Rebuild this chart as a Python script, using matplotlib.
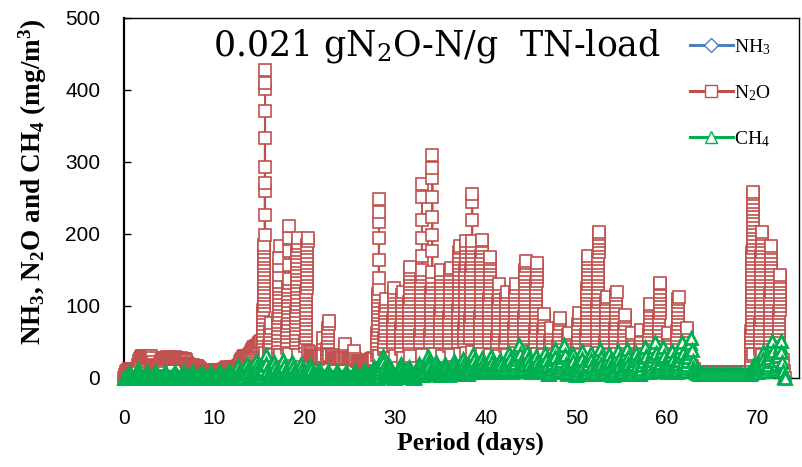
"""
Emission of NH3, N2O and CH4 during composting (0.021 gN2O-N/g TN-load).
"""

import matplotlib
matplotlib.use("Agg")
import matplotlib.pyplot as plt
from matplotlib.lines import Line2D
import numpy as np

# N2O: measurement runs, each given by start day, end day and the readings (mg/m3)
n2o_start = [0.05, 1.6, 3.2, 4.0, 7.0, 8.4, 11.1, 12.8, 14.0,
             15.35, 16.05, 17.0, 18.0, 19.0, 20.05, 20.55, 21.9, 22.45, 22.95,
             24.35, 24.8, 25.35, 25.8, 27.95, 28.75, 29.7, 30.6, 31.45, 32.75,
             33.85, 34.9, 35.9, 36.9, 37.6, 38.25, 39.35, 40.3, 41.25, 42.15,
             43.1, 44.2, 45.45, 46.3, 47.1, 48.0, 49.0, 50.1, 51.1, 52.25,
             53.2, 54.25, 55.2, 56.1, 57.05, 58.0, 59.1, 60.05, 61.1, 62.1,
             62.6, 69.3, 70.3, 71.35, 72.35, 72.85]
n2o_end = [1.5, 3.1, 3.9, 6.9, 8.3, 11.0, 12.7, 13.95, 15.1,
           15.6, 16.25, 17.2, 18.25, 19.2, 20.3, 21.7, 22.05, 22.65, 24.15,
           24.5, 25.2, 25.5, 27.6, 28.2, 28.95, 29.9, 30.8, 31.65, 32.95,
           34.1, 35.1, 36.1, 37.1, 37.8, 38.5, 39.55, 40.5, 41.45, 42.3,
           43.3, 44.4, 45.65, 46.45, 47.2, 48.2, 49.15, 50.3, 51.3, 52.5,
           53.35, 54.45, 55.4, 56.2, 57.2, 58.2, 59.3, 60.2, 61.3, 62.3,
           68.9, 69.55, 70.5, 71.55, 72.55, 73.05]
n2o_values = [
    [0, 4, 8, 10, 11, 12, 13, 12, 12, 11, 12, 13, 12, 12, 13, 12],
    [18, 24, 27, 29, 30, 29, 30, 31, 30, 29, 30, 29, 28, 29, 30, 28],
    [22, 18, 16, 15, 16, 15, 16, 17],
    [20, 24, 26, 27, 28, 27, 28, 29, 28, 27, 28, 29, 28, 27, 28, 28, 29, 28,
     27, 28, 27, 26, 27, 28, 27, 26, 27, 26, 25, 24],
    [21, 19, 18, 17, 18, 17, 18, 17, 16, 17, 16, 15, 14],
    [12, 11, 10, 9, 10, 10, 9, 10, 11, 10, 9, 10, 10, 11, 10, 9, 10, 10, 9,
     10, 11, 10, 10, 9, 10, 11],
    [12, 13, 14, 15, 14, 13, 14, 15, 14, 13, 14, 15, 14, 15, 16, 18],
    [22, 25, 27, 29, 30, 29, 31, 30, 29, 31, 32, 33],
    [36, 39, 41, 43, 42, 44, 45, 46, 48, 50, 52],
    # day 15 peak
    [45, 50, 55, 60, 65, 70, 75, 80, 85, 90, 95, 100, 105, 110, 115, 120, 125,
     130, 135, 140, 145, 150, 155, 160, 165, 170, 175, 180, 185,
     199, 226, 260, 271, 293, 333, 371, 401, 410, 428, 35],
    [40, 45, 50, 55, 60, 65, 70, 77, 32],
    [38, 43, 48, 53, 58, 63, 68, 73, 78, 83, 88, 93, 98, 103, 108, 113, 118,
     123, 128, 133, 143, 155, 167, 183, 32],
    [42, 47, 52, 57, 62, 67, 72, 77, 82, 87, 92, 97, 102, 107, 112, 117, 122,
     127, 132, 137, 157, 176, 194, 211, 34],
    [48, 53, 58, 63, 68, 73, 78, 83, 88, 93, 98, 103, 108, 113, 118, 123, 128,
     133, 138, 143, 148, 153, 158, 163, 168, 173, 178, 183, 188, 195, 32],
    [45, 50, 55, 60, 65, 70, 75, 80, 85, 90, 95, 100, 105, 110, 115, 120, 125,
     130, 135, 140, 145, 150, 155, 160, 165, 170, 175, 180, 185, 190, 195, 38],
    [36, 33, 31, 30, 29, 28, 28, 27, 28, 29, 28, 27, 28, 29, 30],
    [30, 35, 40, 45, 50, 55, 30],
    [30, 35, 40, 45, 50, 55, 60, 65, 70, 75, 79, 32],
    [32, 30, 28, 27, 26, 27, 28, 27, 26, 27, 28, 27, 26, 28],
    [28, 32, 36, 40, 44, 47, 28],
    [28, 27, 26, 27, 26],
    [25, 28, 31, 34, 37, 27],
    [24, 23, 22, 21, 22, 23, 24, 23, 22, 21, 22, 23, 24, 25, 24, 23, 24, 25,
     26, 27, 28, 27],
    # day 28 peak
    [32, 37, 42, 47, 52, 57, 62, 67, 72, 77, 82, 87, 92, 97, 102, 107, 112,
     117, 123, 139, 164, 195, 217, 230, 249, 30],
    [40, 45, 50, 55, 60, 65, 70, 75, 80, 85, 90, 95, 100, 105, 110, 28],
    [45, 50, 55, 60, 65, 70, 75, 80, 85, 90, 95, 100, 105, 110, 115, 120,
     125, 30],
    [40, 45, 50, 55, 60, 65, 70, 75, 80, 85, 90, 95, 100, 105, 110, 115,
     120, 28],
    [45, 50, 55, 60, 65, 70, 75, 80, 85, 90, 95, 100, 105, 110, 115, 120,
     125, 130, 135, 140, 145, 150, 154, 30],
    [50, 55, 60, 65, 70, 75, 80, 85, 90, 95, 100, 105, 110, 115, 120, 125,
     130, 135, 140, 145, 150, 169, 195, 220, 251, 269, 32],
    # day 34 peak
    [50, 55, 60, 65, 70, 75, 80, 85, 90, 95, 100, 105, 110, 115, 120, 125,
     130, 135, 140, 147, 176, 199, 224, 251, 278, 292, 310, 34],
    [50, 55, 60, 65, 70, 75, 80, 85, 90, 95, 100, 105, 110, 115, 120, 125,
     130, 135, 140, 145, 150, 30],
    [45, 50, 55, 60, 65, 70, 75, 80, 85, 90, 95, 100, 105, 110, 115, 120,
     125, 130, 135, 140, 145, 150, 153, 32],
    [50, 55, 60, 65, 70, 75, 80, 85, 90, 95, 100, 105, 110, 115, 120, 125,
     130, 135, 140, 145, 150, 155, 160, 165, 170, 175, 180, 184, 34],
    [50, 55, 60, 65, 70, 75, 80, 85, 90, 95, 100, 105, 110, 115, 120, 125,
     130, 135, 140, 145, 150, 155, 160, 165, 170, 175, 180, 185, 190, 35],
    [55, 60, 65, 70, 75, 80, 85, 90, 95, 100, 105, 110, 115, 120, 125, 130,
     135, 140, 145, 150, 155, 160, 165, 170, 175, 180, 185, 190, 220, 244,
     255, 36],
    [50, 55, 60, 65, 70, 75, 80, 85, 90, 95, 100, 105, 110, 115, 120, 125,
     130, 135, 140, 145, 150, 155, 160, 165, 170, 175, 180, 185, 190, 192, 34],
    [50, 55, 60, 65, 70, 75, 80, 85, 90, 95, 100, 105, 110, 115, 120, 125,
     130, 135, 140, 145, 150, 155, 160, 165, 168, 32],
    [45, 50, 55, 60, 65, 70, 75, 80, 85, 90, 95, 100, 105, 110, 115, 120,
     125, 130, 30],
    [45, 50, 55, 60, 65, 70, 75, 80, 85, 90, 95, 100, 105, 110, 115, 120, 32],
    [45, 50, 55, 60, 65, 70, 75, 80, 85, 90, 95, 100, 105, 110, 115, 120,
     125, 130, 35],
    [50, 55, 60, 65, 70, 75, 80, 85, 90, 95, 100, 105, 110, 115, 120, 125,
     130, 135, 140, 145, 150, 155, 160, 162, 36],
    [50, 55, 60, 65, 70, 75, 80, 85, 90, 95, 100, 105, 110, 115, 120, 125,
     130, 135, 140, 145, 150, 155, 160, 34],
    [45, 50, 55, 60, 65, 70, 75, 80, 85, 89, 32],
    [40, 45, 50, 55, 60, 65, 70, 30],
    [40, 45, 50, 55, 60, 65, 70, 75, 80, 83, 32],
    [35, 40, 45, 50, 55, 60, 62, 30],
    [40, 45, 50, 55, 60, 65, 70, 75, 80, 85, 90, 32],
    [50, 55, 60, 65, 70, 75, 80, 85, 90, 95, 100, 105, 110, 115, 120, 125,
     130, 135, 140, 145, 150, 155, 160, 165, 170, 36],
    [50, 55, 60, 65, 70, 75, 80, 85, 90, 95, 100, 105, 110, 115, 120, 125,
     130, 135, 140, 145, 150, 155, 160, 165, 170, 175, 180, 185, 190, 195,
     200, 203, 35],
    [45, 50, 55, 60, 65, 70, 75, 80, 85, 90, 95, 100, 105, 110, 113, 32],
    [45, 50, 55, 60, 65, 70, 75, 80, 85, 90, 95, 100, 105, 110, 115, 120, 34],
    [40, 45, 50, 55, 60, 65, 70, 75, 80, 85, 87, 30],
    [35, 40, 45, 50, 55, 60, 62, 30],
    [35, 40, 45, 50, 55, 60, 65, 66, 32],
    [40, 45, 50, 55, 60, 65, 70, 75, 80, 85, 90, 95, 100, 103, 34],
    [45, 50, 55, 60, 65, 70, 75, 80, 85, 90, 95, 100, 105, 110, 115, 120,
     125, 130, 132, 35],
    [35, 40, 45, 50, 55, 60, 63, 30],
    [40, 45, 50, 55, 60, 65, 70, 75, 80, 85, 90, 95, 100, 105, 110, 112, 34],
    [35, 40, 45, 50, 55, 60, 65, 70, 28],
    # low period after day 63
    [22, 16, 12, 9, 8, 8, 7, 8, 8, 8, 7, 8, 8, 8, 7, 8, 8, 8, 7, 8, 8, 8, 7,
     8, 8, 8, 7, 8, 8, 9],
    [15, 20, 25, 30, 35, 40, 45, 50, 55, 60, 65, 70, 75, 80, 85, 90, 95, 100,
     105, 110, 115, 120, 125, 130, 135, 140, 145, 150, 155, 160, 165, 170,
     175, 180, 185, 190, 195, 200, 205, 210, 215, 220, 225, 230, 235, 240,
     245, 250, 255, 258, 34],
    [40, 45, 50, 55, 60, 65, 70, 75, 80, 85, 90, 95, 100, 105, 110, 115, 120,
     125, 130, 135, 140, 145, 150, 155, 160, 165, 170, 175, 180, 185, 190,
     195, 200, 203, 32],
    [40, 45, 50, 55, 60, 65, 70, 75, 80, 85, 90, 95, 100, 105, 110, 115, 120,
     125, 130, 135, 140, 145, 150, 155, 160, 165, 170, 175, 180, 183, 32],
    [35, 40, 45, 50, 55, 60, 65, 70, 75, 80, 85, 90, 95, 100, 105, 110, 115,
     120, 125, 130, 135, 140, 143, 30],
    [25, 10, 0],
]

# CH4: readings for each day (day 0 .. 73), spread evenly over the day
ch4_daily = [
    [0, 0, 0, 0, 1, 3, 5, 7, 4, 2, 0, 0],
    [0, 0, 2, 4, 6, 8, 10, 12, 8, 4, 1, 0],
    [0, 0, 0, 0, 2, 4, 6, 8, 5, 2, 0, 0],
    [0, 0, 0, 0, 2, 4, 6, 8, 5, 2, 0, 0],
    [0, 0, 0, 0, 2, 4, 7, 9, 6, 3, 0, 0],
    [0, 0, 0, 0, 2, 4, 6, 8, 5, 2, 0, 0],
    [0, 0, 0, 0, 2, 4, 7, 9, 6, 3, 0, 0],
    [0, 0, 0, 0, 2, 4, 6, 8, 5, 2, 0, 0],
    [0, 0, 0, 0, 1, 3, 5, 7, 4, 2, 0, 0],
    [0, 0, 0, 0, 1, 3, 5, 7, 4, 2, 0, 0],
    [0, 0, 0, 0, 2, 4, 6, 8, 5, 2, 0, 0],
    [0, 0, 0, 1, 3, 5, 8, 10, 6, 3, 0, 0],
    [0, 0, 1, 3, 6, 9, 12, 16, 10, 5, 2, 0],
    [0, 0, 2, 5, 8, 12, 16, 20, 13, 7, 2, 0],
    [0, 1, 3, 6, 10, 14, 19, 24, 16, 9, 3, 0],
    [0, 2, 5, 9, 13, 18, 23, 28, 32, 20, 10, 3],
    [0, 1, 3, 6, 10, 14, 18, 22, 15, 8, 3, 0],
    [0, 1, 3, 6, 10, 14, 19, 25, 16, 9, 3, 0],
    [0, 1, 3, 6, 10, 14, 18, 22, 15, 8, 3, 0],
    [0, 1, 3, 5, 8, 12, 16, 20, 13, 7, 2, 0],
    [0, 1, 3, 5, 8, 11, 14, 18, 12, 6, 2, 0],
    [0, 0, 1, 3, 5, 7, 9, 12, 8, 4, 1, 0],
    [0, 0, 0, 1, 3, 5, 7, 10, 6, 3, 0, 0],
    [0, 0, 0, 1, 3, 5, 7, 10, 6, 3, 0, 0],
    [0, 0, 0, 1, 3, 5, 7, 9, 6, 3, 0, 0],
    [0, 0, 0, 1, 3, 5, 7, 10, 6, 3, 0, 0],
    [0, 0, 0, 1, 3, 5, 8, 11, 7, 3, 0, 0],
    [0, 0, 1, 3, 5, 8, 11, 15, 10, 5, 2, 0],
    [0, 2, 5, 9, 13, 18, 24, 30, 22, 14, 8, 4],
    [4, 6, 8, 10, 12, 15, 11, 7, 4, 2, 0, 0],
    [0, 2, 4, 7, 10, 13, 16, 19, 14, 9, 5, 2],
    [2, 4, 6, 8, 11, 13, 15, 11, 7, 4, 2, 0],
    [0, 2, 4, 7, 10, 13, 17, 20, 15, 10, 6, 4],
    [4, 7, 10, 14, 18, 22, 26, 30, 23, 16, 10, 6],
    [6, 8, 10, 13, 16, 19, 22, 17, 12, 8, 5, 4],
    [4, 6, 8, 11, 14, 17, 20, 15, 10, 7, 5, 4],
    [5, 7, 10, 13, 16, 20, 24, 18, 13, 9, 7, 6],
    [6, 8, 11, 14, 18, 22, 26, 19, 14, 10, 8, 6],
    [6, 9, 12, 16, 20, 24, 28, 33, 25, 17, 11, 8],
    [8, 10, 12, 15, 18, 21, 24, 28, 21, 15, 10, 8],
    [8, 10, 13, 16, 19, 22, 26, 30, 22, 15, 10, 8],
    [8, 10, 12, 14, 17, 19, 22, 25, 19, 13, 10, 8],
    [8, 10, 13, 16, 20, 24, 29, 35, 26, 18, 12, 9],
    [10, 13, 17, 21, 26, 31, 36, 41, 46, 33, 22, 14],
    [10, 13, 16, 19, 23, 27, 31, 36, 27, 19, 13, 10],
    [8, 10, 12, 15, 18, 21, 25, 30, 22, 15, 10, 8],
    [8, 10, 13, 16, 20, 24, 29, 35, 25, 16, 10, 6],
    [6, 9, 13, 17, 21, 26, 32, 40, 29, 19, 12, 8],
    [8, 11, 15, 19, 24, 29, 34, 40, 46, 32, 20, 12],
    [6, 9, 12, 15, 19, 23, 28, 33, 23, 14, 8, 4],
    [4, 7, 11, 15, 19, 24, 30, 38, 27, 17, 10, 6],
    [6, 9, 12, 16, 20, 25, 30, 35, 25, 16, 10, 6],
    [6, 9, 13, 17, 22, 27, 33, 40, 29, 19, 12, 8],
    [6, 9, 12, 15, 19, 23, 28, 33, 23, 14, 8, 4],
    [4, 7, 11, 15, 19, 24, 30, 38, 27, 17, 10, 6],
    [6, 9, 13, 17, 22, 27, 33, 40, 29, 19, 12, 8],
    [6, 9, 12, 16, 20, 25, 30, 35, 25, 16, 10, 6],
    [6, 9, 13, 18, 23, 29, 35, 43, 31, 20, 12, 8],
    [8, 11, 15, 20, 25, 31, 37, 43, 50, 35, 22, 14],
    [10, 13, 17, 21, 26, 31, 37, 43, 31, 21, 14, 10],
    [8, 11, 14, 18, 22, 27, 32, 38, 27, 18, 12, 8],
    [8, 11, 15, 20, 25, 31, 37, 43, 50, 35, 22, 14],
    [10, 14, 18, 23, 29, 35, 41, 48, 55, 39, 24, 14],
    [10, 8, 7, 6, 5, 5],
    [6, 5, 5],
    [6, 5, 5],
    [6, 5, 5],
    [6, 5, 5],
    [6, 5, 5],
    [5, 5, 6, 7, 9, 11, 14, 17, 20, 15, 11, 9],
    [9, 12, 15, 19, 23, 27, 31, 36, 27, 19, 13, 10],
    [10, 14, 18, 23, 28, 34, 40, 46, 52, 37, 24, 14],
    [12, 16, 20, 25, 31, 37, 44, 51, 36, 22, 10, 2],
    [0],
]

# NH3 stayed at the detection floor
nh3_days = [0.1, 73.0]
nh3_values = [0, 0]

x_ticks = [0, 10, 20, 30, 40, 50, 60, 70]
y_ticks = [0, 100, 200, 300, 400, 500]

RED = "#C0504D"
GREEN = "#00B050"
BLUE = "#4F81BD"


def build_n2o():
    t, v = [], []
    for t0, t1, vals in zip(n2o_start, n2o_end, n2o_values):
        t.extend(np.linspace(t0, t1, len(vals)))
        v.extend(vals)
    return np.array(t), np.array(v)


def build_ch4():
    t, v = [], []
    for day, vals in enumerate(ch4_daily):
        t.extend(day + np.arange(len(vals)) / len(vals))
        v.extend(vals)
    return np.array(t), np.array(v)


def plot_results():
    fig = plt.figure(figsize=(8.03, 4.67), dpi=100)
    ax = fig.add_axes([0.1544, 0.1906, 0.8406, 0.7709])

    n2o_t, n2o_v = build_n2o()
    ch4_t, ch4_v = build_ch4()

    ax.plot(nh3_days, nh3_values, color=BLUE, lw=1.4, marker="D", ms=7,
            mfc="white", mec=BLUE, mew=1.2, clip_on=False, zorder=2)
    ax.plot(n2o_t, n2o_v, color=RED, lw=1.4, marker="s", ms=9.2,
            mfc="white", mec=RED, mew=1.2, clip_on=False, zorder=3)
    ax.plot(ch4_t, ch4_v, color=GREEN, lw=1.4, marker="^", ms=8.0,
            mfc="white", mec=GREEN, mew=2.0, clip_on=False, zorder=4)

    ax.set_xlim(0, 74.6)
    ax.set_ylim(0, 500)
    ax.set_xticks(x_ticks)
    ax.set_yticks(y_ticks)
    tick_font = {"family": "Liberation Sans", "size": 15}
    ax.set_xticklabels([str(x) for x in x_ticks], fontdict=tick_font)
    ax.set_yticklabels([str(y) for y in y_ticks], fontdict=tick_font)
    ax.tick_params(axis="y", direction="in", length=5, width=1, pad=17)
    ax.tick_params(axis="x", direction="in", length=0, pad=22)
    for side in ["top", "right", "bottom"]:
        ax.spines[side].set_linewidth(1.0)
    ax.spines["left"].set_linewidth(1.6)

    fig.text(437 / 803, 1 - 46 / 467,
             r"0.021 gN$\mathregular{_2}$O-N/g  TN-load",
             family="DejaVu Serif", fontsize=25, ha="center", va="center")

    fig.text(33 / 803, 1 - 182 / 467,
             r"NH$\mathregular{_3}$, N$\mathregular{_2}$O and "
             r"CH$\mathregular{_4}$ (mg/m$\mathregular{^3}$)",
             family="Liberation Serif", fontweight="bold", fontsize=19.5,
             rotation=90, ha="center", va="center")
    fig.text(470 / 803, 1 - 443 / 467, "Period (days)",
             family="Liberation Serif", fontweight="bold", fontsize=18.5,
             ha="center", va="center")

    handles = [
        Line2D([], [], color=BLUE, lw=2.2, marker="D", ms=7, mfc="white",
               mec=BLUE, mew=1.0),
        Line2D([], [], color=RED, lw=2.2, marker="s", ms=8, mfc="white",
               mec=RED, mew=1.0),
        Line2D([], [], color=GREEN, lw=2.2, marker="^", ms=8.5, mfc="white",
               mec=GREEN, mew=1.0),
    ]
    labels = [r"NH$\mathregular{_3}$", r"N$\mathregular{_2}$O",
              r"CH$\mathregular{_4}$"]
    ax.legend(handles, labels, loc="upper left",
              bbox_to_anchor=(0.818, 0.985), frameon=False, handlelength=2.2,
              handletextpad=0.1, labelspacing=1.35, borderpad=0.2,
              prop={"family": "Liberation Serif", "size": 14})

    fig.savefig("out.png", dpi=100)


def main():
    plot_results()


if __name__ == "__main__":
    main()
